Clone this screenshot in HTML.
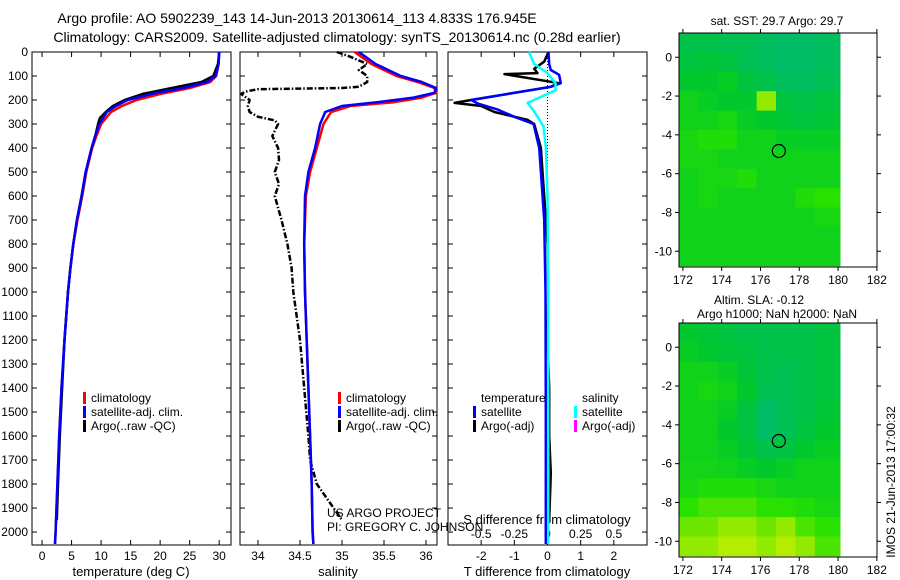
<!DOCTYPE html>
<html><head><meta charset="utf-8"><style>
body{margin:0;background:#fff;}
svg{display:block;font-family:"Liberation Sans",sans-serif;}
</style></head><body>
<svg id="chart" width="900" height="580" viewBox="0 0 900 580" xmlns="http://www.w3.org/2000/svg">
<text x="297" y="23" font-size="14" text-anchor="middle">Argo profile: AO 5902239_143 14-Jun-2013 20130614_113 4.833S 176.945E</text>
<text x="337" y="42" font-size="14" text-anchor="middle">Climatology: CARS2009. Satellite-adjusted climatology: synTS_20130614.nc (0.28d earlier)</text>
<g id="g"></g>
</svg>
<script>
// ---------- data ----------
const depthTicks=[0,100,200,300,400,500,600,700,800,900,1000,1100,1200,1300,1400,1500,1600,1700,1800,1900,2000];
const tempTicks=[0,5,10,15,20,25,30];
const salTicks=[34,34.5,35,35.5,36];
const salTickLabels=['34','34.5','35','35.5','36'];
const tdiffTicks=[-2,-1,0,1,2];
const sdiffTicks=[-0.5,-0.25,0,0.25,0.5];
const sdiffTickLabels=['-0.5','-0.25','0','0.25','0.5'];

const tClimDepth=[0,50,100,125,150,175,200,225,250,300,350,400,500,600,700,800,900,1000,1200,1400,1600,1800,2000,2050];
const tClim=[30,29.9,29.5,28.5,25,20,16,13.5,11.7,10,9.2,8.5,7.5,6.8,6.0,5.3,4.8,4.4,3.8,3.3,2.9,2.6,2.3,2.2];
const tSatDepth=[0,50,100,125,150,175,200,225,250,300,350,400,500,600,700,800,900,1000,1200,1400,1600,1800,2000,2050];
const tSat=[30,29.9,29.4,28,24,18.5,14.5,12.5,11,9.7,9.0,8.4,7.4,6.7,5.9,5.3,4.8,4.4,3.8,3.3,2.9,2.6,2.3,2.2];
const tArgoDepth=[0,50,100,125,150,175,200,225,250,275,300,350,400,500,600,700,800,900,1000,1200,1400,1600,1800,1950];
const tArgo=[30,29.8,29,27,22,17,14,12,10.8,9.8,9.5,9.0,8.4,7.4,6.7,5.9,5.3,4.8,4.4,3.8,3.4,3.0,2.7,2.5];

const sClimDepth=[0,50,75,100,125,150,170,190,210,225,250,300,400,500,600,800,1000,1200,1400,1600,1800,2000,2050];
const sClim=[35.15,35.35,35.5,35.65,35.9,36.1,36.12,35.95,35.6,35.1,34.87,34.78,34.7,34.62,34.57,34.55,34.56,34.58,34.6,34.62,34.64,34.65,34.66];
const sSatDepth=[0,50,75,100,125,150,170,190,210,225,250,300,400,500,600,800,1000,1200,1400,1600,1800,2000,2050];
const sSat=[35.2,35.4,35.55,35.7,35.95,36.12,36.1,35.85,35.4,35.0,34.8,34.74,34.68,34.6,34.56,34.55,34.56,34.58,34.6,34.62,34.64,34.65,34.66];
const sArgoDepth=[0,20,50,75,100,125,145,150,155,165,175,200,225,250,270,285,300,350,400,450,500,550,600,700,800,900,1000,1200,1400,1600,1700,1800,1850,1900,1950];
const sArgo=[34.94,35.1,35.3,35.2,35.3,35.3,35.2,35.0,34.0,33.85,33.8,33.9,33.88,33.9,34.0,34.2,34.24,34.17,34.24,34.25,34.2,34.25,34.2,34.28,34.35,34.4,34.42,34.5,34.55,34.6,34.62,34.7,34.8,34.9,35.0];

const dTSatDepth=[0,50,75,95,130,145,200,215,240,270,300,400,500,700,1000,1500,2000,2050];
const dTSat=[0.03,0.05,0.1,0.35,0.4,0.1,-2.3,-2.1,-1.5,-1.0,-0.42,-0.25,-0.2,-0.1,-0.06,-0.05,-0.05,-0.05];
const dTArgoDepth=[0,40,70,88,92,130,145,200,212,225,250,283,300,400,500,600,800,1000,1200,1400,1600,1755,1950];
const dTArgo=[0.03,-0.1,-0.4,-0.3,-1.3,0.35,0.1,-2.3,-2.8,-2.0,-1.6,-0.6,-0.4,-0.2,-0.15,-0.1,0.0,0.02,0.0,0.05,0.05,0.1,0.05];
const dSSatDepth=[0,50,88,130,160,187,212,240,310,400,600,1000,1500,2000,2050];
const dSSat=[-0.14,-0.1,0,0.06,0.06,-0.05,-0.15,-0.11,-0.03,-0.012,0.0,0.005,0.005,0.005,0.005];

const lonTicks=[172,174,176,178,180,182];
const latTicks=[0,-2,-4,-6,-8,-10];
const sstGrid=[
[.35,.35,.3,.3,.25,.2,.2,.25],
[.4,.45,.4,.3,.25,.2,.2,.25],
[.5,.5,.55,.4,.35,.25,.25,.3],
[.6,.55,.5,.5,.9,.4,.35,.4],
[.6,.6,.65,.55,.5,.45,.4,.45],
[.65,.7,.7,.6,.6,.55,.55,.55],
[.65,.65,.6,.6,.6,.6,.6,.6],
[.6,.65,.65,.7,.6,.6,.6,.6],
[.6,.65,.6,.6,.6,.6,.7,.75],
[.6,.6,.6,.6,.6,.6,.6,.65],
[.6,.6,.6,.6,.6,.6,.6,.6],
[.6,.6,.6,.6,.6,.6,.6,.6]];
const slaGrid=[
[.5,.45,.4,.35,.35,.35,.35,.4],
[.55,.5,.45,.4,.35,.35,.35,.4],
[.6,.6,.55,.45,.35,.3,.35,.4],
[.6,.65,.6,.5,.3,.3,.35,.4],
[.6,.6,.55,.4,.2,.3,.35,.45],
[.6,.6,.5,.4,.2,.3,.4,.5],
[.6,.6,.55,.45,.35,.4,.5,.55],
[.62,.62,.6,.55,.5,.55,.6,.6],
[.65,.7,.7,.7,.65,.6,.6,.6],
[.75,.8,.8,.8,.75,.75,.7,.65],
[.85,.85,.9,.9,.85,.9,.8,.75],
[.9,.9,.95,.95,.9,.95,.9,.8]];
const argoLon=176.945, argoLat=-4.833;

// ---------- axes ----------
const Y0=52, Y1=545, DMAX=2054;
const yD=d=>Y0+(d/DMAX)*(Y1-Y0);
const P1={l:32,r:231}, P2={l:240,r:437}, P3={l:448,r:647};
const xT=v=>P1.l+(v+1.7)/(33.7)*(P1.r-P1.l);
const xS=v=>P2.l+(v-33.786)/(2.345)*(P2.r-P2.l);
const xD=v=>P3.l+(v+3)/6*(P3.r-P3.l);
const xDs=v=>xD(v*4);
const M1={l:679,r:877,t:33,b:267}, M2={l:679,r:877,t:323,b:557};
const lonX=(m,v)=>m.l+(v-171.8)*19.4;
const latY=(m,v)=>m.t+(1.25-v)*19.4;

const NS='http://www.w3.org/2000/svg';
const G=document.getElementById('g');
function mk(tag,attrs,parent){const e=document.createElementNS(NS,tag);for(const k in attrs)e.setAttribute(k,attrs[k]);(parent||G).appendChild(e);return e;}
function txt(x,y,s,size,anchor,parent){const e=mk('text',{x:x,y:y,'font-size':size||12,'text-anchor':anchor||'middle'},parent);e.textContent=s;return e;}
function poly(xf,vals,depths,color,w,dash){
  const pts=vals.map((v,i)=>xf(v).toFixed(1)+','+yD(depths[i]).toFixed(1)).join(' ');
  const a={points:pts,fill:'none',stroke:color,'stroke-width':w,'stroke-linejoin':'round'};
  if(dash)a['stroke-dasharray']=dash;
  return mk('polyline',a);
}

[P1,P2,P3].forEach((P,pi)=>{
  const f=mk('rect',{x:P.l,y:Y0,width:P.r-P.l,height:Y1-Y0,fill:'none',stroke:'#000','stroke-width':1});
  
  
  depthTicks.forEach(d=>{
    mk('line',{x1:P.l,x2:P.l+5,y1:yD(d),y2:yD(d),stroke:'#000'});
    mk('line',{x1:P.r,x2:P.r-5,y1:yD(d),y2:yD(d),stroke:'#000'});
  });
});
depthTicks.forEach(d=>{
  const t=txt(28,yD(d)+4,String(d),12,'end');
  
  
});
function xticks(xf,ticks,labels,ly,name){
  ticks.forEach((v,i)=>{
    mk('line',{x1:xf(v),x2:xf(v),y1:Y1,y2:Y1-5,stroke:'#000'});
    mk('line',{x1:xf(v),x2:xf(v),y1:Y0,y2:Y0+5,stroke:'#000'});
    const t=txt(xf(v),ly,labels?labels[i]:String(v),12);
    
    
  });
}
xticks(xT,tempTicks,null,560,'temperature-tick-label');
xticks(xS,salTicks,salTickLabels,560,'salinity-tick-label');
xticks(xD,tdiffTicks,null,560,'t-diff-tick-label');
sdiffTicks.forEach((v,i)=>{const t=txt(xDs(v),538,sdiffTickLabels[i],12);
  
  });
[['temperature (deg C)',131,'x-axis-title-temperature'],['salinity',338,'x-axis-title-salinity'],['T difference from climatology',547,'x-axis-title-t-diff']].forEach(a=>{
  const t=txt(a[1],576,a[0],13);
  
  
});
{const t=txt(547,524,'S difference from climatology',13);

}

{const z=mk('line',{x1:xD(0),x2:xD(0),y1:Y0,y2:Y1-10,stroke:'#000','stroke-dasharray':'1,2'});

}

let s;
s=poly(xT,tClim,tClimDepth,'#f00',2.5);
s=poly(xT,tArgo,tArgoDepth,'#000',2.5);
s=poly(xT,tSat,tSatDepth,'#00f',2.5);
s=poly(xS,sArgo,sArgoDepth,'#000',2.5,'6,2,1.5,2');
s=poly(xS,sClim,sClimDepth,'#f00',2.5);
s=poly(xS,sSat,sSatDepth,'#00f',2.5);
s=poly(xD,dTArgo,dTArgoDepth,'#000',2.5);
s=poly(xD,dTSat,dTSatDepth,'#00f',2.5);
s=poly(xDs,dSSat,dSSatDepth,'#0ff',2.5);

function legend(x,y,color,label,name){
  const b=mk('rect',{x:x,y:y-10,width:3,height:12,fill:color});
  
  
  const t=txt(x+8,y,label,12,'start');
  
  
}
legend(83,402,'#f00','climatology','legend-climatology');
legend(83,416,'#00f','satellite-adj. clim.','legend-satellite');
legend(83,430,'#000','Argo(..raw -QC)','legend-argo');
legend(338,402,'#f00','climatology','legend-climatology-2');
legend(338,416,'#00f','satellite-adj. clim.','legend-satellite-2');
legend(338,430,'#000','Argo(..raw -QC)','legend-argo-2');
{const t=txt(481,402,'temperature',12,'start');}
{const t=txt(582,402,'salinity',12,'start');}
legend(473,416,'#00f','satellite','legend-t-satellite');
legend(473,430,'#000','Argo(-adj)','legend-t-argo');
legend(574,416,'#0ff','satellite','legend-s-satellite');
legend(574,430,'#f0f','Argo(-adj)','legend-s-argo');
{const t=txt(327,517,'US ARGO PROJECT',12,'start');}
{const t=txt(327,531,'PI: GREGORY C. JOHNSON',12,'start');}

function col(v){
  const stops=[[0,[0,180,140]],[0.5,[0,200,45]],[0.75,[40,225,0]],[1,[215,240,0]]];
  for(let i=1;i<stops.length;i++){if(v<=stops[i][0]){const a=stops[i-1],b=stops[i];const f=(v-a[0])/(b[0]-a[0]);
    return 'rgb('+a[1].map((c,k)=>Math.round(c+(b[1][k]-c)*f)).join(',')+')';}}
  return 'rgb(215,240,0)';
}
function drawMap(M,grid,name){
  grid.forEach((row,r)=>row.forEach((v,c)=>{
    const x0=Math.max(M.l,lonX(M,172+c-0.2)), x1=lonX(M,173+c-0.2+(c==7?0.3:0));
    const y0=latY(M,1.25-r), y1=latY(M,0.25-r);
    const cell=mk('rect',{x:x0.toFixed(1),y:y0.toFixed(1),width:(x1-x0+0.5).toFixed(1),height:(y1-y0+0.5).toFixed(1),fill:col(v)});
    
    
  }));
  const f=mk('rect',{x:M.l,y:M.t,width:M.r-M.l,height:M.b-M.t,fill:'none',stroke:'#000'});
  
  
  lonTicks.forEach(v=>{const x=lonX(M,v);
    mk('line',{x1:x,x2:x,y1:M.b,y2:M.b+4,stroke:'#000'});
    mk('line',{x1:x,x2:x,y1:M.t,y2:M.t-4,stroke:'#000'});
    const t=txt(x,M.b+17,String(v),12);});
  latTicks.forEach(v=>{const y=latY(M,v);
    mk('line',{x1:M.l,x2:M.l-4,y1:y,y2:y,stroke:'#000'});
    mk('line',{x1:M.r,x2:M.r+4,y1:y,y2:y,stroke:'#000'});
    const t=txt(M.l-7,y+4,String(v),12,'end');});
  const c=mk('circle',{cx:lonX(M,argoLon),cy:latY(M,argoLat),r:6.5,fill:'none',stroke:'#000','stroke-width':1.2});
  
  
}
drawMap(M1,sstGrid,'sst-map');
drawMap(M2,slaGrid,'sla-map');
{const t=txt(777,25,'sat. SST: 29.7 Argo: 29.7',12);}
{const t=txt(759,304,'Altim. SLA: -0.12',12);}
{const t=txt(777,318,'Argo h1000: NaN h2000: NaN',12);}
{const t=mk('text',{x:0,y:0,'font-size':12,'text-anchor':'middle',transform:'translate(895,482) rotate(-90)'});
t.textContent='IMOS 21-Jun-2013 17:00:32';

}
</script>
</body></html>
